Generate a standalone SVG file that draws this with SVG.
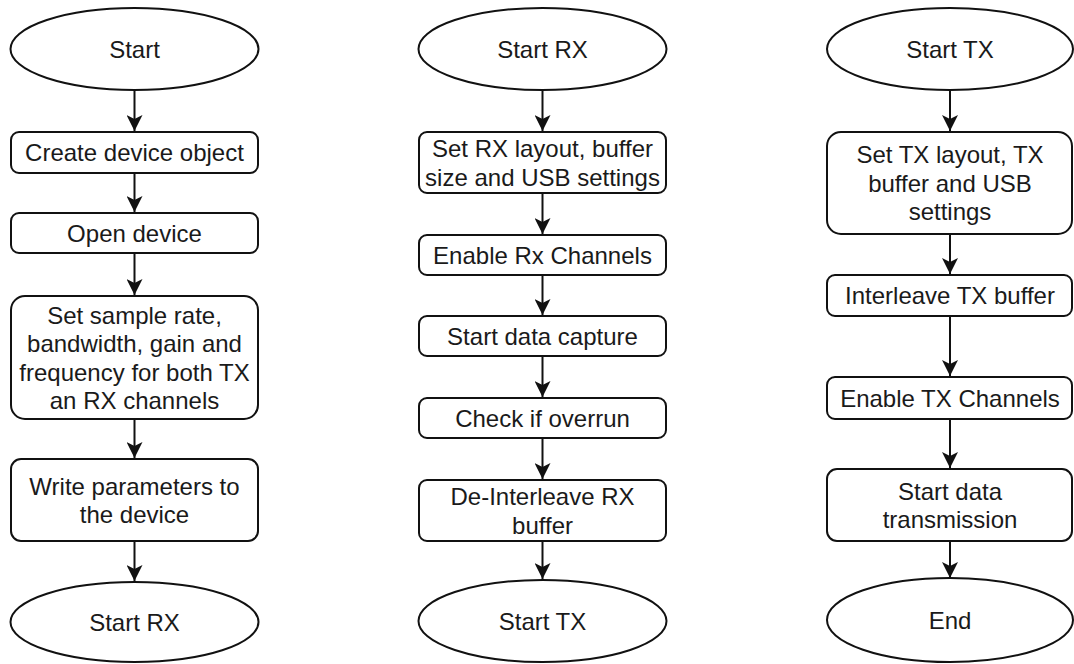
<svg xmlns="http://www.w3.org/2000/svg" width="1074" height="664" viewBox="0 0 1074 664">
<style>
.n{fill:#fff;stroke:#111;stroke-width:2}
.t{font-family:"Liberation Sans",Arial,sans-serif;font-size:24px;fill:#1a1a1a;text-anchor:middle}
.c{fill:none;stroke:#111;stroke-width:2}
</style>
<defs>
<marker id="ah" viewBox="0 0 16 16" markerWidth="16" markerHeight="16" refX="16" refY="8" orient="auto" markerUnits="userSpaceOnUse">
<path d="M0,0 L16,8 L0,16 L4,8 Z" fill="#111"/>
</marker>
</defs>
<rect width="1074" height="664" fill="#fff"/>
<g id="connectors">
<path class="c" marker-end="url(#ah)" d="M134.5,90 V131"/>
<path class="c" marker-end="url(#ah)" d="M134.5,173 V212"/>
<path class="c" marker-end="url(#ah)" d="M134.5,253 V295"/>
<path class="c" marker-end="url(#ah)" d="M134.5,419 V458"/>
<path class="c" marker-end="url(#ah)" d="M134.5,541 V581"/>
<path class="c" marker-end="url(#ah)" d="M542.5,90 V131"/>
<path class="c" marker-end="url(#ah)" d="M542.5,193 V234"/>
<path class="c" marker-end="url(#ah)" d="M542.5,275 V315"/>
<path class="c" marker-end="url(#ah)" d="M542.5,356 V397"/>
<path class="c" marker-end="url(#ah)" d="M542.5,438 V479"/>
<path class="c" marker-end="url(#ah)" d="M542.5,541 V579"/>
<path class="c" marker-end="url(#ah)" d="M950,90 V131"/>
<path class="c" marker-end="url(#ah)" d="M950,234 V274"/>
<path class="c" marker-end="url(#ah)" d="M950,316 V376"/>
<path class="c" marker-end="url(#ah)" d="M950,419 V468"/>
<path class="c" marker-end="url(#ah)" d="M950,541 V578"/>
</g>
<g id="start"><ellipse class="n" cx="134.5" cy="49" rx="124" ry="41"/><text class="t" x="134.5" y="57.5">Start</text></g>
<g id="create"><rect class="n" x="11" y="132" width="247" height="41" rx="8"/><text class="t" x="134.5" y="161">Create device object</text></g>
<g id="open"><rect class="n" x="11" y="213" width="247" height="40" rx="8"/><text class="t" x="134.5" y="241.5">Open device</text></g>
<g id="setsample"><rect class="n" x="11" y="296" width="247" height="123" rx="14"/><text class="t" x="134.5" y="323.5">Set sample rate,<tspan x="134.5" dy="28.5">bandwidth, gain and</tspan><tspan x="134.5" dy="28.5">frequency for both TX</tspan><tspan x="134.5" dy="28.5">an RX channels</tspan></text></g>
<g id="write"><rect class="n" x="11" y="459" width="247" height="82" rx="10"/><text class="t" x="134.5" y="494.5">Write parameters to<tspan x="134.5" dy="28.5">the device</tspan></text></g>
<g id="startrx1"><ellipse class="n" cx="134.5" cy="622" rx="124" ry="40"/><text class="t" x="134.5" y="630.5">Start RX</text></g>
<g id="startrx2"><ellipse class="n" cx="542.5" cy="49" rx="124" ry="41"/><text class="t" x="542.5" y="57.5">Start RX</text></g>
<g id="setrx"><rect class="n" x="419" y="132" width="247" height="61" rx="8"/><text class="t" x="542.5" y="157">Set RX layout, buffer<tspan x="542.5" dy="28.5">size and USB settings</tspan></text></g>
<g id="enablerx"><rect class="n" x="419" y="235" width="247" height="40" rx="8"/><text class="t" x="542.5" y="263.5">Enable Rx Channels</text></g>
<g id="capture"><rect class="n" x="419" y="316" width="247" height="40" rx="8"/><text class="t" x="542.5" y="344.5">Start data capture</text></g>
<g id="overrun"><rect class="n" x="419" y="398" width="247" height="40" rx="8"/><text class="t" x="542.5" y="426.5">Check if overrun</text></g>
<g id="deinter"><rect class="n" x="419" y="480" width="247" height="61" rx="8"/><text class="t" x="542.5" y="505">De-Interleave RX<tspan x="542.5" dy="28.5">buffer</tspan></text></g>
<g id="starttx1"><ellipse class="n" cx="542.5" cy="621" rx="124" ry="41"/><text class="t" x="542.5" y="629.5">Start TX</text></g>
<g id="starttx2"><ellipse class="n" cx="950" cy="49" rx="123" ry="41"/><text class="t" x="950" y="57.5">Start TX</text></g>
<g id="settx"><rect class="n" x="827" y="132" width="245" height="102" rx="14"/><text class="t" x="950" y="163">Set TX layout, TX<tspan x="950" dy="28.5">buffer and USB</tspan><tspan x="950" dy="28.5">settings</tspan></text></g>
<g id="interleave"><rect class="n" x="827" y="275" width="245" height="41" rx="8"/><text class="t" x="950" y="304">Interleave TX buffer</text></g>
<g id="enabletx"><rect class="n" x="827" y="377" width="245" height="42" rx="8"/><text class="t" x="950" y="406.5">Enable TX Channels</text></g>
<g id="transmit"><rect class="n" x="827" y="469" width="245" height="72" rx="10"/><text class="t" x="950" y="499.5">Start data<tspan x="950" dy="28.5">transmission</tspan></text></g>
<g id="end"><ellipse class="n" cx="950" cy="620" rx="123" ry="42"/><text class="t" x="950" y="628.5">End</text></g>
</svg>
